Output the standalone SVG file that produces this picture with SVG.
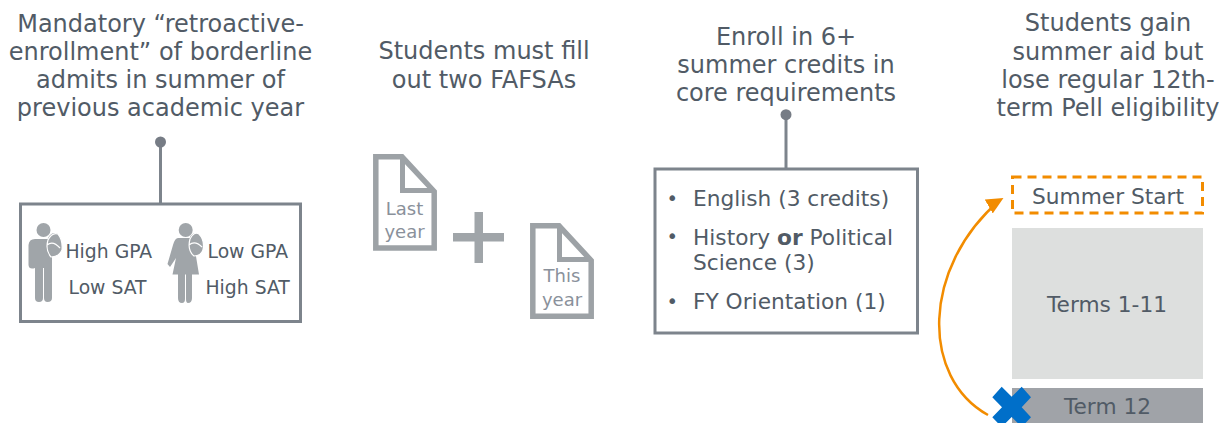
<svg xmlns="http://www.w3.org/2000/svg" width="1228" height="423" viewBox="0 0 1228 423">
<style>
text{font-family:"DejaVu Sans",Verdana,sans-serif;fill:#515b66}
.h{font-size:24px;text-anchor:middle}
.b{font-size:21.700px}
.s{font-size:18.800px}
.m{text-anchor:middle}
.f{font-size:18px;fill:#8a919b;text-anchor:middle}
.bu{font-size:19.500px}
.icon{fill:#a0a5a9}
.box{fill:#fff;stroke:#7d848c;stroke-width:3}
.pin{stroke:#7d848c;stroke-width:3;fill:none}
.dot{fill:#767c85}
.doc{fill:#fff;stroke:#9da2a6;stroke-width:5.500}
.fold{fill:none;stroke:#9da2a6;stroke-width:5}
.pk{fill:none;stroke:#fff;stroke-width:1.200}
</style>
<defs>
<marker id="ah" markerUnits="userSpaceOnUse" markerWidth="20" markerHeight="20" refX="13" refY="8" orient="-30"><path d="M0 0L17 8L0 16Z" fill="#f28c00"/></marker>
</defs>
<g id="connectors">
<path class="pin" d="M160.500 142V204"/><circle class="dot" cx="160.500" cy="142" r="5.500"/>
<path class="pin" d="M786 114V169"/><circle class="dot" cx="786" cy="114.700" r="5.500"/>
<path d="M988 415C921 378 921 268 1000 200" fill="none" stroke="#f28c00" stroke-width="2.500" marker-end="url(#ah)"/>
</g>
<g id="col1-title">
<text class="h" x="160.500" y="32">Mandatory “retroactive-</text>
<text class="h" x="160.500" y="60">enrollment” of borderline</text>
<text class="h" x="160.500" y="88">admits in summer of</text>
<text class="h" x="160.500" y="116">previous academic year</text>
</g>
<g id="students">
<rect class="box" x="20.500" y="204" width="280" height="117.500"/>
<g id="male">
<circle class="icon" cx="43.500" cy="230" r="7"/>
<path class="icon" d="M35 239H52V298Q52 302 47.500 302Q44 302 44 298V268H43V298Q43 302 39 302Q35 302 35 298V268Q29 270 28.500 265V245Q29 239 35 239Z"/>
<path class="icon" d="M48 238Q52 231 58 234Q63 240 62 250Q59 257 51 257Q45 250 48 238Z"/>
<path class="pk" d="M48 240Q52 232 58 234Q63 240 62 250Q59 257 51 257Q45 250 48 240ZM47 245Q53 240 60 248"/>
</g>
<g id="female">
<circle class="icon" cx="185.700" cy="230" r="7"/>
<path class="icon" d="M178 238H193L199 274.500H192V298Q192 303 188 303Q186 303 186 299V274.500H185V299Q185 303 182 303Q178 303 178 298V274.500H172.500L176 258L170 267L167.500 264L173 245Q175 238 178 238Z"/>
<path class="icon" d="M190 237Q194 231 199 234Q205 240 203 250Q201 256 194 256Q187 250 190 237Z"/>
<path class="pk" d="M190 239Q194 231 199 234Q205 240 203 250Q201 256 194 256Q187 250 190 239ZM189 245Q195 240 202 247"/>
</g>
<text class="s" x="65.500" y="258">High GPA</text>
<text class="s" x="68.500" y="294">Low SAT</text>
<text class="s" x="207.500" y="258">Low GPA</text>
<text class="s" x="205.500" y="294">High SAT</text>
</g>
<g id="col2-title">
<text class="h" x="484" y="59">Students must fill</text>
<text class="h" x="484" y="88">out two FAFSAs</text>
</g>
<g id="doc-last">
<path class="doc" d="M375.800 156.800H402L434.200 191.500V248H375.800Z"/>
<path class="fold" d="M402.500 157V190.500H434"/>
<text class="f" x="404.500" y="215">Last</text>
<text class="f" x="404.500" y="238">year</text>
</g>
<g id="plus"><path class="icon" d="M474.500 212H483V233H504V241.500H483V263H474.500V241.500H453V233H474.500Z"/></g>
<g id="doc-this">
<path class="doc" d="M532.800 225.800H559L591.200 260.500V316.300H532.800Z"/>
<path class="fold" d="M559.500 226V259.500H591"/>
<text class="f" x="562" y="282">This</text>
<text class="f" x="562" y="306">year</text>
</g>
<g id="col3-title">
<text class="h" x="786" y="45">Enroll in 6+</text>
<text class="h" x="786" y="73">summer credits in</text>
<text class="h" x="786" y="101">core requirements</text>
</g>
<g id="requirements">
<rect class="box" x="655" y="169" width="262.500" height="164"/>
<text class="bu" x="666.500" y="205">•</text>
<text class="b" x="693" y="206">English (3 credits)</text>
<text class="bu" x="666.500" y="243">•</text>
<text class="b" x="693" y="245">History <tspan font-weight="bold">or</tspan> Political</text>
<text class="b" x="693" y="270">Science (3)</text>
<text class="bu" x="666.500" y="308">•</text>
<text class="b" x="693" y="309">FY Orientation (1)</text>
</g>
<g id="col4-title">
<text class="h" x="1108" y="31">Students gain</text>
<text class="h" x="1108" y="60">summer aid but</text>
<text class="h" x="1108" y="88">lose regular 12th-</text>
<text class="h" x="1108" y="116">term Pell eligibility</text>
</g>
<g id="summer-start">
<rect x="1012.500" y="177" width="190" height="36" fill="none" stroke="#f28c00" stroke-width="3" stroke-dasharray="9 6"/>
<text class="b m" x="1108" y="204">Summer Start</text>
</g>
<g id="terms-1-11">
<rect x="1012" y="228" width="191" height="151" fill="#dddfde"/>
<text class="b m" x="1107" y="312">Terms 1-11</text>
</g>
<g id="term-12">
<rect x="1012" y="388" width="191" height="35" fill="#a0a3a8"/>
<text class="b m" x="1107.500" y="414">Term 12</text>
<path d="M1001.700 386.700L1011.700 396.700L1021.700 386.700L1031 397.300L1021.700 407.300L1031 417.300L1021.700 427L1011.700 417L1001.700 427L992.300 417.300L1002 407.300L992.300 397.300Z" fill="#006fc9"/>
</g>
</svg>
